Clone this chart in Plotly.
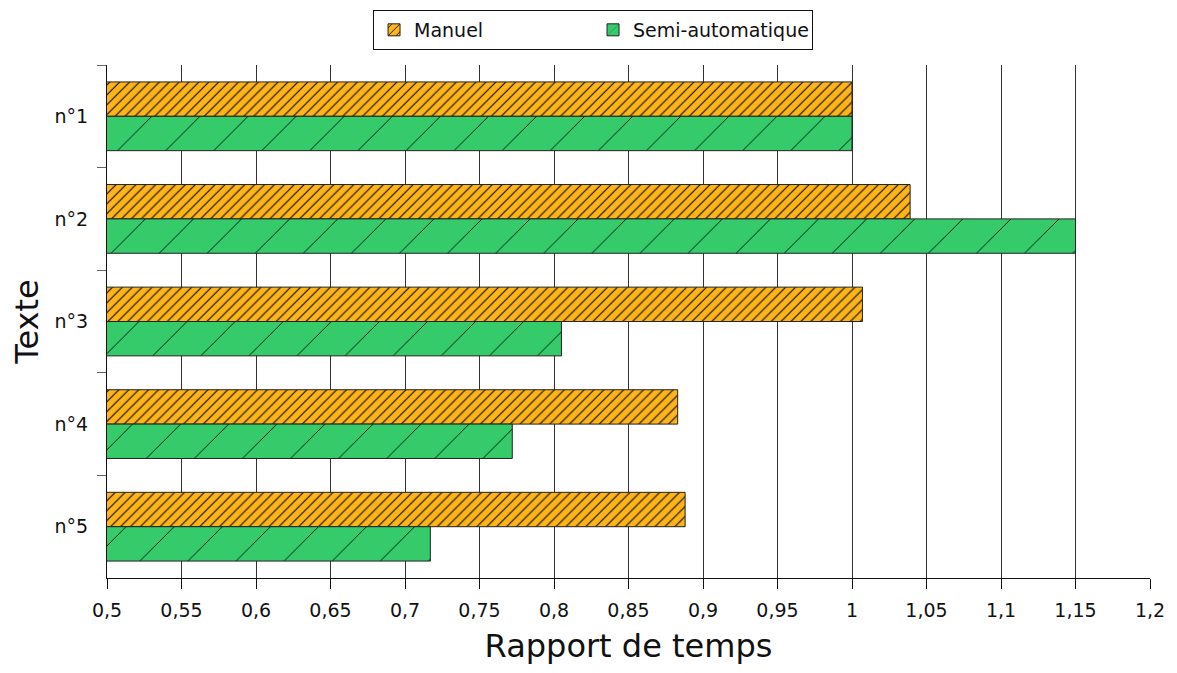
import plotly.graph_objects as go

textes = ['n°1', 'n°2', 'n°3', 'n°4', 'n°5']
manuel = [1.0, 1.039, 1.007, 0.883, 0.888]
semi_auto = [1.0, 1.150, 0.805, 0.772, 0.717]

x_ticks = [0.5, 0.55, 0.6, 0.65, 0.7, 0.75, 0.8, 0.85, 0.9, 0.95, 1.0, 1.05, 1.1, 1.15, 1.2]
x_labels = ['0,5', '0,55', '0,6', '0,65', '0,7', '0,75', '0,8', '0,85', '0,9', '0,95',
            '1', '1,05', '1,1', '1,15', '1,2']

fig = go.Figure()
fig.add_trace(go.Bar(
  y=textes, x=manuel, base=0, orientation='h', name='Manuel',
  marker=dict(color='#FFB517', line=dict(color='#222', width=1),
              pattern=dict(shape='/', size=7, solidity=0.15, fgcolor='#000', fgopacity=1)),
))
fig.add_trace(go.Bar(
  y=textes, x=semi_auto, base=0, orientation='h', name='Semi-automatique',
  marker=dict(color='#36CB6A', line=dict(color='#222', width=1),
              pattern=dict(shape='/', size=34, solidity=0.025, fgcolor='#000', fgopacity=1)),
))

# the page body adds ~8px margin, so the figure is a bit smaller than the window
fig.update_layout(
  width=1161, height=657,
  barmode='group', bargap=0.33, bargroupgap=0,
  plot_bgcolor='white', paper_bgcolor='white',
  font=dict(family='DejaVu Sans', size=19, color='#111'),
  margin=dict(l=99, r=19, t=57, b=87),
  legend=dict(orientation='h', x=0.466, xanchor='center', y=0.997, yanchor='top',
              yref='container', bordercolor='#111', borderwidth=1, font=dict(size=19),
              entrywidth=174),
  xaxis=dict(range=[0.5, 1.2], tickvals=x_ticks, ticktext=x_labels,
             showgrid=True, gridcolor='#333', gridwidth=1,
             showline=True, linecolor='#111', linewidth=1, automargin=False,
             ticks='outside', ticklen=10, tickcolor='#111', zeroline=False,
             ticklabelstandoff=5,
             title=dict(text='Rapport de temps', font=dict(size=32), standoff=26)),
  yaxis=dict(autorange='reversed', showline=True, linecolor='#111', linewidth=1,
             ticks='outside', ticklen=9, tickcolor='#666', tickson='boundaries',
             showgrid=False, automargin=False, ticklabelstandoff=14,
             title=dict(text='Texte', font=dict(size=32), standoff=18)),
)

fig.write_html("out.html")
